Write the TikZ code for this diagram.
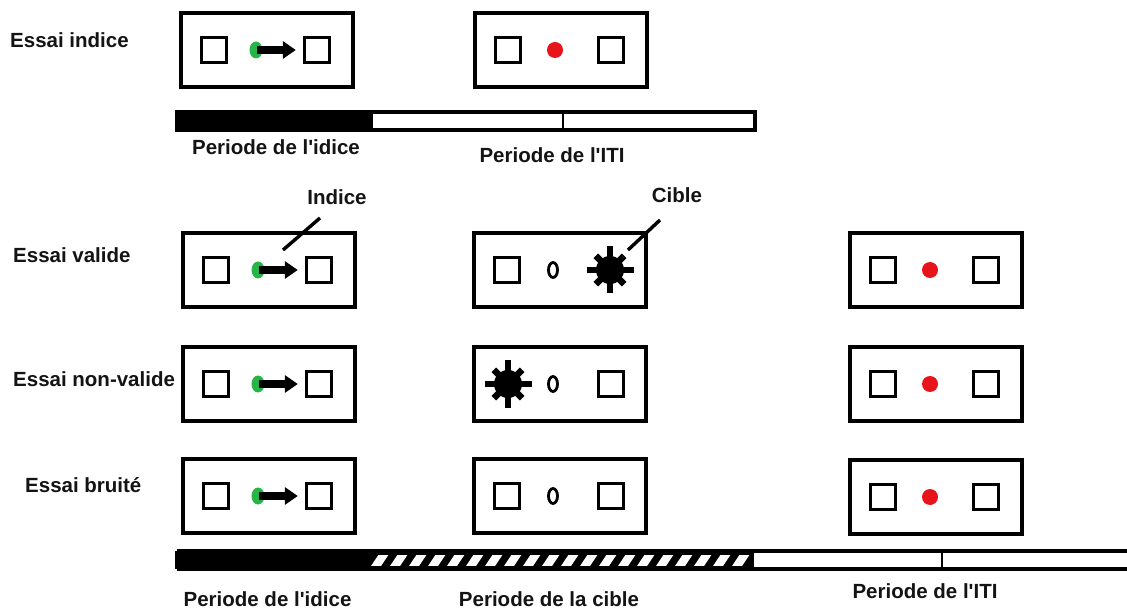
\documentclass[tikz,border=0pt]{standalone}
\usepackage{fontspec}
\setmainfont{Liberation Sans}[Ligatures=TeXOff]
\usetikzlibrary{arrows.meta}
\definecolor{cuegreen}{RGB}{40,180,70}
\definecolor{itired}{RGB}{232,20,28}
\begin{document}
\begin{tikzpicture}[x=1pt,y=-1pt,
  screen/.style={draw,line width=3.4pt,minimum width=172pt,minimum height=74pt,inner sep=0pt},
  sq/.style={draw,line width=3.4pt,minimum size=25pt,inner sep=0pt},
  lbl/.style={font=\fontsize{20.5}{24}\selectfont\bfseries,inner sep=0pt,text=black!92},
  cuearrow/.style={line width=8pt,-{Triangle[length=13pt,width=17pt]},shorten >=7pt},
  leader/.style={line width=3.4pt},
  barline/.style={line width=3.4pt},
  fixring/.style={line width=2.8pt},
  pics/starburst/.style={code={
    \fill (0,0) circle (14);
    \foreach \a in {0,90,180,270} \draw[line width=6.5pt] (0,0) -- (\a:23.5);
    \foreach \a in {45,135,225,315} \draw[line width=6.5pt] (0,0) -- (\a:20);
  }},
  pics/cuescreen/.style={code={
    \node[screen] (-box) at (0,0) {};
    \node[sq] (-l) at (-53,0) {};
    \node[sq] (-r) at (50,0) {};
    \fill[cuegreen] (-11,0) ellipse (6.5 and 8.5);
    \coordinate (-dot) at (-10,0);
    \draw[cuearrow] (-dot) -- (-r.west);
  }},
  pics/itiscreen/.style={code={
    \node[screen] (-box) at (0,0) {};
    \node[sq] (-l) at (-53,0) {};
    \node[sq] (-r) at (50,0) {};
    \fill[itired] (-6,0) circle (8);
  }},
  pics/targetright/.style={code={
    \node[screen] (-box) at (0,0) {};
    \node[sq] (-l) at (-53,0) {};
    \draw[fixring] (-7,0) ellipse (4.5 and 7.5);
    \pic at (50,0) {starburst};
  }},
  pics/targetleft/.style={code={
    \node[screen] (-box) at (0,0) {};
    \pic at (-52,0) {starburst};
    \draw[fixring] (-7,0) ellipse (4.5 and 7.5);
    \node[sq] (-r) at (51,0) {};
  }},
  pics/notarget/.style={code={
    \node[screen] (-box) at (0,0) {};
    \node[sq] (-l) at (-53,0) {};
    \draw[fixring] (-7,0) ellipse (4.5 and 7.5);
    \node[sq] (-r) at (51,0) {};
  }}
]
\useasboundingbox (0,0) rectangle (1127,609);
\fill[white] (0,0) rectangle (1127,609);

% ---- top: cue trial
\node[lbl,anchor=base west] (lEssaiIndice) at (10,48) {Essai indice};
\pic (t1) at (267,50) {cuescreen};
\pic (t2) at (561,50) {itiscreen};

% top time bar
\fill (177,112) rectangle (373,130);
\draw[barline] (177,112) rectangle (755,130);
\draw[line width=2.6pt] (563,112) -- (563,130);
\node[lbl,anchor=base] (pTopCue) at (276,155) {Periode de l'idice};
\node[lbl,anchor=base] (pTopIti) at (552,163) {Periode de l'ITI};

% ---- annotations
\node[lbl,anchor=base] (lIndice) at (337,205) {Indice};
\coordinate (indA) at (320,218);
\coordinate (indB) at (283,250);
\draw[leader] (indA) -- (indB);
\node[lbl,anchor=base] (lCible) at (677,203) {Cible};
\coordinate (cibA) at (660,220);
\coordinate (cibB) at (628,250);
\draw[leader] (cibA) -- (cibB);

% ---- rows
\node[lbl,anchor=base west] (lValide) at (13,263) {Essai valide};
\pic (v1) at (269,270) {cuescreen};
\pic (v2) at (560,270) {targetright};
\pic (v3) at (936,270) {itiscreen};

\node[lbl,anchor=base west] (lNonValide) at (13,387) {Essai non-valide};
\pic (n1) at (269,384) {cuescreen};
\pic (n2) at (560,384) {targetleft};
\pic (n3) at (936,384) {itiscreen};

\node[lbl,anchor=base west] (lBruite) at (25,492) {Essai bruité};
\pic (b1) at (269,496) {cuescreen};
\pic (b2) at (560,496) {notarget};
\pic (b3) at (936,497) {itiscreen};

% ---- bottom time bar
\fill (177,551) rectangle (370,569);
\fill (370,551) rectangle (752,569);
\begin{scope}
  \clip (371,555) rectangle (750,565);
  \foreach \i in {0,...,20}
    \fill[white] ({371+19*\i},566) -- ++(10,0) -- ++(8,-12) -- ++(-10,0) -- cycle;
\end{scope}
\draw[barline] (177,551) -- (1127,551);
\draw[barline] (177,569) -- (1127,569);
\draw[barline] (177,551) -- (177,569);
\draw[barline] (752,551) -- (752,569);
\draw[line width=2.6pt] (942,551) -- (942,569);

\node[lbl,anchor=base] (pBotCue) at (267.5,606) {Periode de l'idice};
\node[lbl,anchor=base] (pBotTarget) at (549,606) {Periode de la cible};
\node[lbl,anchor=base] (pBotIti) at (925,598) {Periode de l'ITI};
\end{tikzpicture}
\end{document}
